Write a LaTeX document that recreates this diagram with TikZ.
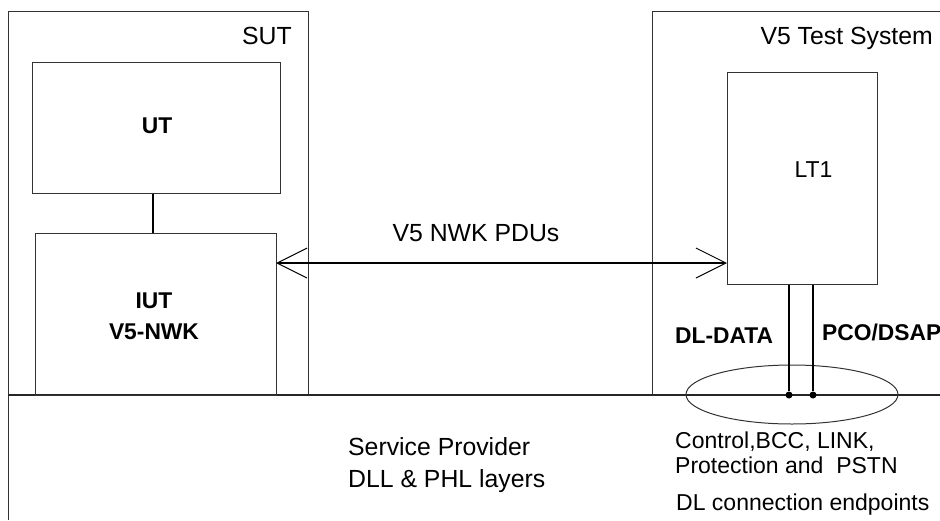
\documentclass[tikz,border=0pt]{standalone}
\usepackage{fontspec}
\setmainfont{Liberation Sans}
\usetikzlibrary{arrows.meta}
\begin{document}
\begin{tikzpicture}[x=1pt,y=-1pt,
  thinbox/.style={draw=black!80,line width=1pt,rectangle,inner sep=0pt},
  heavy/.style={draw=black,line width=2pt},
  lbl/.style={font=\fontsize{23}{28}\selectfont,inner sep=0pt},
  biglbl/.style={font=\fontsize{24.8}{30}\selectfont,inner sep=0pt},
  blbl/.style={font=\fontsize{22.8}{30}\selectfont\bfseries,inner sep=0pt},
  hdr/.style={font=\fontsize{24.8}{29}\selectfont,inner sep=0pt},
  dotmark/.style={circle,fill=black,inner sep=0pt,minimum size=7pt},
  barb/.style={{Straight Barb[length=30pt,width=30pt,line width=1pt]}-{Straight Barb[length=30pt,width=30pt,line width=1pt]}}
]
\useasboundingbox (0,0) rectangle (940,520);
% outer frames
\node[thinbox,minimum width=300pt,minimum height=384pt,anchor=north west] (sut) at (8,11) {};
\node[thinbox,minimum width=300pt,minimum height=384pt,anchor=north west] (ts) at (652,11) {};
\coordinate (sutbl) at (8,520);
\draw[draw=black!80,line width=1pt] (sut.south west) -- (sutbl);
\coordinate (hl) at (8,395);
\coordinate (hr) at (940,395);
\draw[draw=black!85,line width=1.5pt] (hl) -- (hr);
% headers
\node[hdr,anchor=base east] (sutlbl) at (292,44) {SUT};
\node[hdr,anchor=base east] (tslbl) at (933,44) {V5 Test System};
% inner boxes
\node[thinbox,minimum width=248pt,minimum height=131pt,anchor=north west] (ut) at (32,62) {};
\node[blbl,anchor=base] (utl) at (157,133) {UT};
\node[thinbox,minimum width=241pt,minimum height=162pt,anchor=north west] (iut) at (35,233) {};
\node[blbl,anchor=base] (iutl1) at (154,308) {IUT};
\node[blbl,anchor=base] (iutl2) at (154,339) {V5-NWK};
\node[thinbox,minimum width=150pt,minimum height=212pt,anchor=north west] (lt) at (727,72) {};
\node[lbl,anchor=base] (ltl) at (813.5,177) {LT1};
% UT - IUT connector
\draw[heavy] (ut.south -| 153,0) -- (iut.north -| 153,0);
% arrow
\coordinate (al) at (276,263);
\coordinate (ar) at (727,263);
\draw[heavy,barb] (al) -- (ar);
\node[biglbl,anchor=base] (pdu) at (476,241) {V5 NWK PDUs};
% ellipse and endpoints
\draw[draw=black!80,line width=1pt] (792,394.5) ellipse [x radius=106, y radius=29.5];
\node[dotmark] (d1) at (789,395) {};
\node[dotmark] (d2) at (813,395) {};
\draw[heavy] (lt.south -| d1) -- (d1);
\draw[heavy] (lt.south -| d2) -- (d2);
\node[blbl,anchor=base west] (dld) at (675,343) {DL-DATA};
\node[blbl,anchor=base west] (pco) at (822,340) {PCO/DSAP};
% bottom texts
\node[biglbl,anchor=base west] (sp1) at (348,455) {Service Provider};
\node[biglbl,anchor=base west] (sp2) at (348,487) {DLL \& PHL layers};
\node[lbl,anchor=base west] (ctl1) at (675,448) {Control,BCC, LINK,};
\node[lbl,anchor=base west] (ctl2) at (675,473) {Protection and\ \ PSTN};
\node[lbl,anchor=base west] (dce) at (676,510) {DL connection endpoints};
\end{tikzpicture}
\end{document}
